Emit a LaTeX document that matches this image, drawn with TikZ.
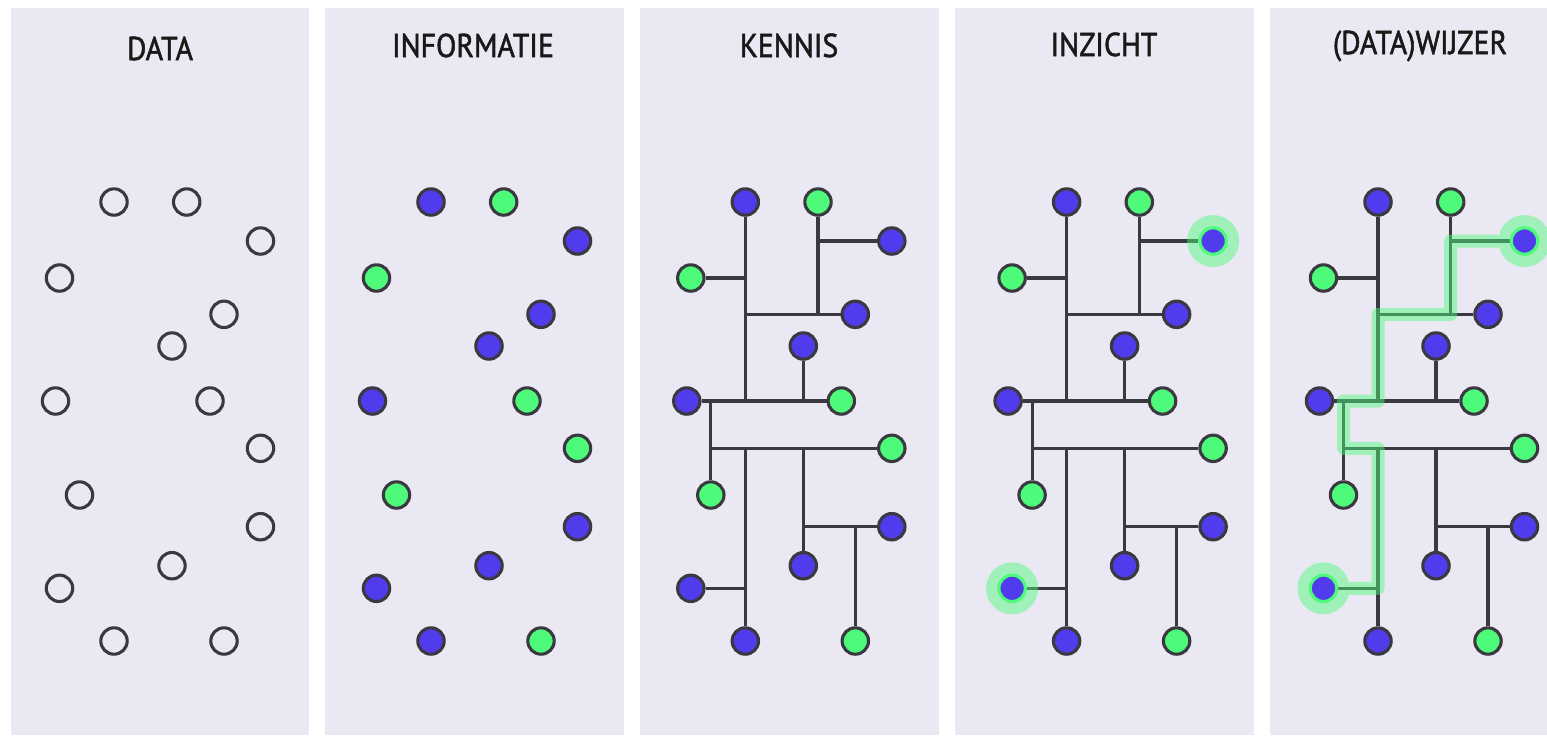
\documentclass[tikz,border=0pt]{standalone}
\usepackage{fontspec}
\newfontfamily\titlefont[FakeStretch=0.9,FakeBold=1.6]{PT Sans}
\definecolor{panelbg}{RGB}{234,232,243}
\definecolor{edgecol}{RGB}{58,57,64}
\definecolor{purp}{RGB}{80,60,236}
\definecolor{grn}{RGB}{77,250,122}
\pgfdeclarelayer{bg}
\pgfdeclarelayer{glow}
\pgfsetlayers{bg,glow,main}
\tikzset{
  dot/.style={circle, inner sep=0pt, minimum size=13.2pt, line width=1.55pt},
  opendot/.style={dot, draw=edgecol, fill=panelbg},
  purpdot/.style={dot, draw=edgecol, fill=purp},
  grndot/.style={dot, draw=edgecol, fill=grn},
  hidot/.style={dot, draw=grn, fill=purp},
  link/.style={draw=edgecol, line width=1.6pt},
  panel/.style={fill=panelbg, draw=none},
  title/.style={font=\titlefont\fontsize{16.5pt}{18pt}\selectfont, text=black!90, anchor=base, inner sep=0pt},
  glowpath/.style={draw=grn, line width=6.5pt, line join=round},
}
% #1 prefix, #2 purple style, #3 green style, #4 style of C, #5 style of M
\newcommand\placenodes[5]{%
  \node[#2] (#1A) at (114,202) {};
  \node[#3] (#1B) at (186.7,202) {};
  \node[#4] (#1C) at (260.5,241) {};
  \node[#3] (#1D) at (59.5,278) {};
  \node[#2] (#1E) at (224,314.3) {};
  \node[#2] (#1F) at (172,346) {};
  \node[#2] (#1G) at (55.5,401) {};
  \node[#3] (#1H) at (210,401) {};
  \node[#3] (#1I) at (260.5,448.3) {};
  \node[#3] (#1J) at (79.5,495) {};
  \node[#2] (#1K) at (260.5,526.7) {};
  \node[#2] (#1L) at (172,565.7) {};
  \node[#5] (#1M) at (59.5,588.3) {};
  \node[#2] (#1N) at (114,641) {};
  \node[#3] (#1O) at (224,641) {};
}
\newcommand\connectnodes[1]{%
  \begin{pgfonlayer}{bg}
  \draw[link] (#1A) -- (#1A |- #1G);
  \draw[link] (#1D) -- (#1A |- #1D);
  \draw[link] (#1A |- #1E) -- (#1E);
  \draw[link] (#1B) -- (#1B |- #1E);
  \draw[link] (#1B |- #1C) -- (#1C);
  \draw[link] (#1F) -- (#1F |- #1G);
  \draw[link] (#1G) -- (#1H);
  \draw[link] (#1J |- #1G) -- (#1J);
  \draw[link] (#1J |- #1I) -- (#1I);
  \draw[link] (#1N |- #1I) -- (#1N);
  \draw[link] (#1M) -- (#1N |- #1M);
  \draw[link] (#1L |- #1I) -- (#1L);
  \draw[link] (#1L |- #1K) -- (#1K);
  \draw[link] (#1O |- #1K) -- (#1O);
  \end{pgfonlayer}
}
\begin{document}
\begin{tikzpicture}[x=0.5pt, y=-0.5pt]
\useasboundingbox (0,0) rectangle (1547,735);
\begin{pgfonlayer}{bg}
  \fill[white] (0,0) rectangle (1547,735);
  \fill[panel] (11,8) rectangle (309,735);
  \fill[panel] (325,8) rectangle (624,735);
  \fill[panel] (640,8) rectangle (939,735);
  \fill[panel] (955,8) rectangle (1254,735);
  \fill[panel] (1270,8) rectangle (1547,735);
\end{pgfonlayer}

\node[title] (t1) at (160,60) {DATA};
\node[title] (t2) at (473,57) {INFORMATIE};
\node[title] (t3) at (789,57) {KENNIS};
\node[title] (t4) at (1104,56) {INZICHT};
\node[title] (t5) at (1420,54) {(DATA)WIJZER};

\begin{scope}
  \placenodes{p1}{opendot}{opendot}{opendot}{opendot}
\end{scope}
\begin{scope}[shift={(317,0)}]
  \placenodes{p2}{purpdot}{grndot}{purpdot}{purpdot}
\end{scope}
\begin{scope}[shift={(631.3,0)}]
  \placenodes{p3}{purpdot}{grndot}{purpdot}{purpdot}
\end{scope}
\begin{scope}[shift={(952.6,0)}]
  \placenodes{p4}{purpdot}{grndot}{hidot}{hidot}
\end{scope}
\begin{scope}[shift={(1264,0)}]
  \placenodes{p5}{purpdot}{grndot}{hidot}{hidot}
\end{scope}

\connectnodes{p3}
\connectnodes{p4}
\connectnodes{p5}

\begin{pgfonlayer}{glow}
  \begin{scope}[transparency group, opacity=0.47]
    \fill[grn] (p4C) circle[radius=13pt];
  \end{scope}
  \begin{scope}[transparency group, opacity=0.47]
    \fill[grn] (p4M) circle[radius=13pt];
  \end{scope}
  \begin{scope}[transparency group, opacity=0.47]
    \draw[glowpath] (p5C.center) -- (p5B |- p5C) -- (p5B |- p5E) -- (p5A |- p5E)
      -- (p5A |- p5G) -- (p5J |- p5G) -- (p5J |- p5I) -- (p5N |- p5I)
      -- (p5N |- p5M) -- (p5M.center);
    \fill[grn] (p5C) circle[radius=13pt];
    \fill[grn] (p5M) circle[radius=13pt];
  \end{scope}
\end{pgfonlayer}
\end{tikzpicture}
\end{document}
